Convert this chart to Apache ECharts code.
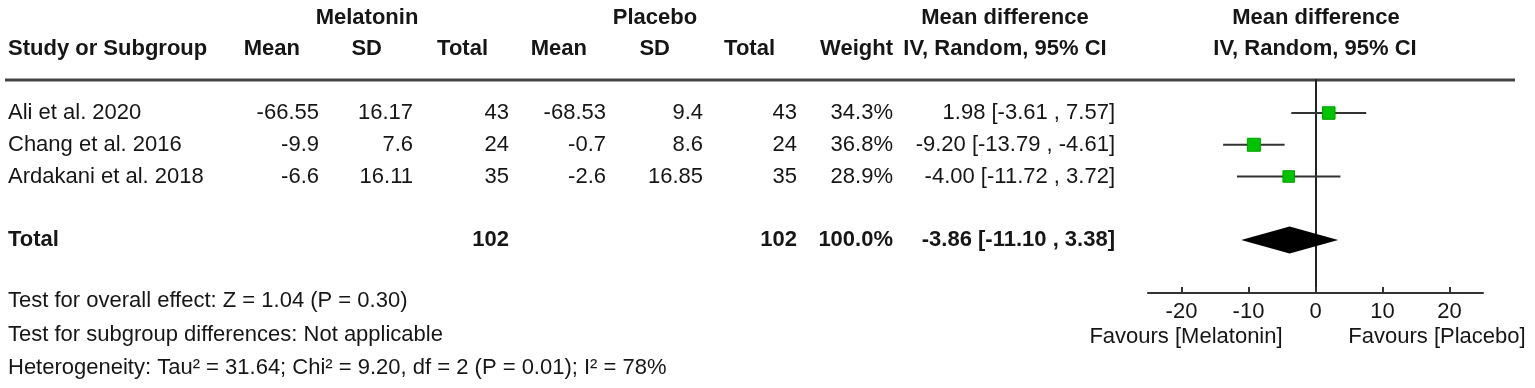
<!DOCTYPE html>
<html>
<head>
<meta charset="utf-8">
<script src="https://cdn.jsdelivr.net/npm/echarts@6/dist/echarts.min.js"></script>
<style>
  html, body { margin: 0; padding: 0; background: #fff; }
  #chart { width: 1535px; height: 388px; }
</style>
</head>
<body>
<div id="chart"></div>
<script>
// study rows
var studies = ['Ali et al. 2020', 'Chang et al. 2016', 'Ardakani et al. 2018'];
var melMean = [-66.55, -9.9, -6.6];
var melSD = [16.17, 7.6, 16.11];
var melN = [43, 24, 35];
var plaMean = [-68.53, -0.7, -2.6];
var plaSD = [9.4, 8.6, 16.85];
var plaN = [43, 24, 35];
var weights = [34.3, 36.8, 28.9];
var md = [1.98, -9.20, -4.00];
var ciLow = [-3.61, -13.79, -11.72];
var ciHigh = [7.57, -4.61, 3.72];

// pooled
var pooled = [-3.86, -11.10, 3.38]; // estimate, low, high
var totalN = [102, 102];
var totalWeight = 100.0;

var tickValues = [-20, -10, 0, 10, 20];
var favours = ['Favours [Melatonin]', 'Favours [Placebo]'];
var footer = [
    'Test for overall effect: Z = 1.04 (P = 0.30)',
    'Test for subgroup differences: Not applicable',
    'Heterogeneity: Tau\u00b2 = 31.64; Chi\u00b2 = 9.20, df = 2 (P = 0.01); I\u00b2 = 78%'
];

var FONT = '"Liberation Sans", Arial, sans-serif';
var INK = '#161616';

function txt(s, x, y, align, bold) {
    return {
        type: 'text',
        x: x,
        y: y,
        style: {
            text: s,
            font: (bold ? 'bold ' : '') + '22px ' + FONT,
            fill: INK,
            textAlign: align || 'left',
            textVerticalAlign: 'middle'
        }
    };
}

function ci(m, lo, hi) {
    return m.toFixed(2) + ' [' + lo.toFixed(2) + ' , ' + hi.toFixed(2) + ']';
}

var rowY = [113, 145, 177];
var totalY = 240;

var graphics = [];
// headers
graphics.push(txt('Melatonin', 367, 18, 'center', true));
graphics.push(txt('Placebo', 655, 18, 'center', true));
graphics.push(txt('Mean difference', 1005, 18, 'center', true));
graphics.push(txt('Mean difference', 1316, 18, 'center', true));
graphics.push(txt('Study or Subgroup', 8, 49, 'left', true));
graphics.push(txt('Mean', 300, 49, 'right', true));
graphics.push(txt('SD', 382, 49, 'right', true));
graphics.push(txt('Total', 488, 49, 'right', true));
graphics.push(txt('Mean', 587, 49, 'right', true));
graphics.push(txt('SD', 670, 49, 'right', true));
graphics.push(txt('Total', 775, 49, 'right', true));
graphics.push(txt('Weight', 893, 49, 'right', true));
graphics.push(txt('IV, Random, 95% CI', 1005, 49, 'center', true));
graphics.push(txt('IV, Random, 95% CI', 1315, 49, 'center', true));

graphics.push({
    type: 'line',
    shape: { x1: 5, y1: 80, x2: 1515, y2: 80 },
    style: { stroke: '#444', lineWidth: 3 }
});

// study rows
studies.forEach(function (s, i) {
    var y = rowY[i];
    graphics.push(txt(s, 8, y, 'left'));
    graphics.push(txt(String(melMean[i]), 319, y, 'right'));
    graphics.push(txt(String(melSD[i]), 413, y, 'right'));
    graphics.push(txt(String(melN[i]), 509, y, 'right'));
    graphics.push(txt(String(plaMean[i]), 606, y, 'right'));
    graphics.push(txt(String(plaSD[i]), 703, y, 'right'));
    graphics.push(txt(String(plaN[i]), 797, y, 'right'));
    graphics.push(txt(weights[i].toFixed(1) + '%', 893, y, 'right'));
    graphics.push(txt(ci(md[i], ciLow[i], ciHigh[i]), 1115, y, 'right'));
});

// total row
graphics.push(txt('Total', 8, totalY, 'left', true));
graphics.push(txt(String(totalN[0]), 509, totalY, 'right', true));
graphics.push(txt(String(totalN[1]), 797, totalY, 'right', true));
graphics.push(txt(totalWeight.toFixed(1) + '%', 893, totalY, 'right', true));
graphics.push(txt(ci(pooled[0], pooled[1], pooled[2]), 1115, totalY, 'right', true));

// footer + favours
footer.forEach(function (s, i) {
    graphics.push(txt(s, 8, 301 + i * 33.5, 'left'));
});
graphics.push(txt(favours[0], 1186, 337, 'center'));
graphics.push(txt(favours[1], 1437, 337, 'center'));

// forest plot data (y = row index, total on row 4)
var ciData = md.map(function (m, i) { return [ciLow[i], ciHigh[i], i]; });
var pointData = md.map(function (m, i) { return [m, i, weights[i]]; });
var diamondData = [[pooled[0], pooled[1], pooled[2], 4]];

var chart = echarts.init(document.getElementById('chart'));
var option = {
    animation: false,
    backgroundColor: '#fff',
    grid: { left: 1148, width: 335, top: 80, height: 213 },
    xAxis: {
        type: 'value',
        min: -25,
        max: 25,
        axisLine: { onZero: false, lineStyle: { color: '#333', width: 2 } },
        axisTick: { show: true, inside: true, length: 6, customValues: tickValues, lineStyle: { color: '#333', width: 2 } },
        axisLabel: { customValues: tickValues, fontSize: 22, fontFamily: FONT, color: INK, margin: 8 },
        splitLine: { show: false }
    },
    yAxis: {
        type: 'value',
        inverse: true,
        min: -1.04,
        max: 5.67,
        axisLine: { show: true, onZero: true, lineStyle: { color: '#222', width: 2 } },
        axisTick: { show: false },
        axisLabel: { show: false },
        splitLine: { show: false }
    },
    graphic: graphics,
    series: [
        {
            type: 'custom',
            data: ciData,
            encode: { x: [0, 1], y: 2 },
            z: 2,
            renderItem: function (params, api) {
                var a = api.coord([api.value(0), api.value(2)]);
                var b = api.coord([api.value(1), api.value(2)]);
                return {
                    type: 'line',
                    shape: { x1: a[0], y1: a[1], x2: b[0], y2: b[1] },
                    style: { stroke: '#333', lineWidth: 2 }
                };
            }
        },
        {
            type: 'scatter',
            data: pointData,
            symbol: 'rect',
            z: 3,
            symbolSize: function (v) { return Math.sqrt(v[2] / 36.8) * 13; },
            itemStyle: { color: '#00c400', borderColor: '#00a000', borderWidth: 1, opacity: 1 }
        },
        {
            type: 'custom',
            data: diamondData,
            encode: { x: [0, 1, 2], y: 3 },
            z: 3,
            renderItem: function (params, api) {
                var y = api.value(3);
                var l = api.coord([api.value(1), y]);
                var c = api.coord([api.value(0), y]);
                var r = api.coord([api.value(2), y]);
                return {
                    type: 'polygon',
                    shape: { points: [[l[0], l[1]], [c[0], c[1] - 13.5], [r[0], r[1]], [c[0], c[1] + 13.5]] },
                    style: { fill: '#000' }
                };
            }
        }
    ]
};
chart.setOption(option);
</script>
</body>
</html>
